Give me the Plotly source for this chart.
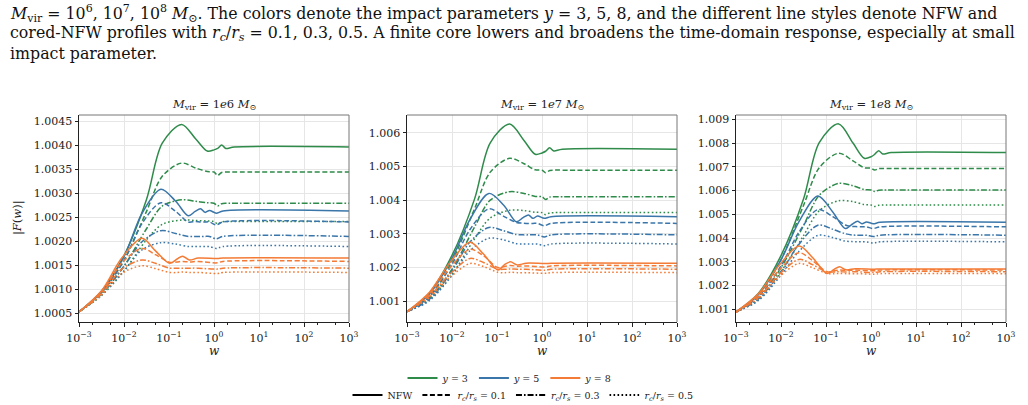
import plotly.graph_objects as go
from plotly.subplots import make_subplots

# ---- data: log10(w) grids (per impact parameter) ----
LW_Y3 = [-3, -2.5, -2, -1.5, -1.15, -0.72, -0.4, -0.15, 0.0, 0.08, 0.17, 0.26, 0.45, 3]
LW_Y5 = [-3, -2.5, -2, -1.6, -1.18, -0.85, -0.57, -0.42, -0.3, -0.2, -0.1, 0.05, 0.2, 3]
LW_Y8 = [-3, -2.5, -2.05, -1.6, -1.3, -0.98, -0.82, -0.7, -0.55, -0.35, 0.07, 0.2, 3]

# ---- |F(w)| for M_vir = 1e6 ----
M6_Y3_NFW = [1.00053, 1.00095, 1.00170, 1.00287, 1.00404, 1.00443, 1.00412, 1.003875, 1.00390, 1.00393, 1.00400, 1.00393, 1.00396, 1.00396]
M6_Y3_C01 = [1.00053, 1.00093, 1.00160, 1.00262, 1.00335, 1.003625, 1.00352, 1.00345, 1.00344, 1.00337, 1.00343, 1.00344, 1.00344, 1.00344]
M6_Y3_C03 = [1.00053, 1.00090, 1.00148, 1.00226, 1.00273, 1.00286, 1.00283, 1.00280, 1.00279, 1.002735, 1.00278, 1.00279, 1.00279, 1.00279]
M6_Y3_C05 = [1.00053, 1.00087, 1.00138, 1.00203, 1.00235, 1.00244, 1.00243, 1.00242, 1.00241, 1.00236, 1.00240, 1.00241, 1.00241, 1.00241]
M6_Y5_NFW = [1.00053, 1.00096, 1.00168, 1.00258, 1.00308, 1.00283, 1.002528, 1.00262, 1.002674, 1.00260, 1.00264, 1.002583, 1.00263, 1.00263]
M6_Y5_C01 = [1.00053, 1.00094, 1.00160, 1.00237, 1.00280, 1.00262, 1.00240, 1.00241, 1.00240, 1.00240, 1.00240, 1.00234, 1.00240, 1.00240]
M6_Y5_C03 = [1.00053, 1.00091, 1.00148, 1.00199, 1.00222, 1.00216, 1.00210, 1.00210, 1.00210, 1.00210, 1.00210, 1.00205, 1.00210, 1.00210]
M6_Y5_C05 = [1.00053, 1.00088, 1.00138, 1.00182, 1.00197, 1.00194, 1.00189, 1.00189, 1.00189, 1.00189, 1.00189, 1.00185, 1.00189, 1.00189]
M6_Y8_NFW = [1.00053, 1.00097, 1.00165, 1.00206, 1.00180, 1.00154, 1.00163, 1.00169, 1.00161, 1.00165, 1.00164, 1.00165, 1.00165]
M6_Y8_C01 = [1.00053, 1.00094, 1.00155, 1.00185, 1.00172, 1.00156, 1.00157, 1.00158, 1.00157, 1.00158, 1.00155, 1.00158, 1.00158]
M6_Y8_C03 = [1.00053, 1.00091, 1.00142, 1.00161, 1.00154, 1.00144, 1.00144, 1.00144, 1.00144, 1.00144, 1.00142, 1.00144, 1.00144]
M6_Y8_C05 = [1.00053, 1.00088, 1.00133, 1.00149, 1.00143, 1.00135, 1.00135, 1.00136, 1.00135, 1.00135, 1.00133, 1.00135, 1.00135]

# ---- |F(w)| for M_vir = 1e7 ----
M7_Y3_NFW = [1.000694, 1.00125, 1.00236, 1.00403, 1.00570, 1.006257, 1.00577, 1.00536, 1.00540, 1.00545, 1.005555, 1.00546, 1.00551, 1.00551]
M7_Y3_C01 = [1.000694, 1.00116, 1.00219, 1.00374, 1.00483, 1.00524, 1.00508, 1.00490, 1.00489, 1.00481, 1.00488, 1.00489, 1.00489, 1.00489]
M7_Y3_C03 = [1.000694, 1.00110, 1.00195, 1.00320, 1.00400, 1.00425, 1.00420, 1.00411, 1.00410, 1.00402, 1.00409, 1.00410, 1.00410, 1.00410]
M7_Y3_C05 = [1.000694, 1.00105, 1.00180, 1.00285, 1.00347, 1.00370, 1.00369, 1.00364, 1.00363, 1.00357, 1.00362, 1.00363, 1.00363, 1.00363]
M7_Y5_NFW = [1.000694, 1.00122, 1.00227, 1.00343, 1.00420, 1.00385, 1.003362, 1.00348, 1.00356, 1.00346, 1.00353, 1.00346, 1.00351, 1.00351]
M7_Y5_C01 = [1.000694, 1.00114, 1.00210, 1.00313, 1.00374, 1.00352, 1.00334, 1.00332, 1.00331, 1.00331, 1.00331, 1.00324, 1.00331, 1.00331]
M7_Y5_C03 = [1.000694, 1.00106, 1.00190, 1.00276, 1.00319, 1.00309, 1.00298, 1.00297, 1.00297, 1.00297, 1.00297, 1.00291, 1.00297, 1.00297]
M7_Y5_C05 = [1.000694, 1.00102, 1.00177, 1.00250, 1.00287, 1.00282, 1.00271, 1.00270, 1.00270, 1.00270, 1.00270, 1.00265, 1.00270, 1.00270]
M7_Y8_NFW = [1.000694, 1.00127, 1.00214, 1.00275, 1.00240, 1.00193, 1.00210, 1.00217, 1.00208, 1.00213, 1.00212, 1.00213, 1.00213]
M7_Y8_C01 = [1.000694, 1.00122, 1.00199, 1.00254, 1.00235, 1.00200, 1.00204, 1.00206, 1.00204, 1.00205, 1.00202, 1.00205, 1.00205]
M7_Y8_C03 = [1.000694, 1.00116, 1.00180, 1.00227, 1.00215, 1.00195, 1.00195, 1.00196, 1.00195, 1.00195, 1.00192, 1.00195, 1.00195]
M7_Y8_C05 = [1.000694, 1.00111, 1.00170, 1.00212, 1.00203, 1.00186, 1.00185, 1.00186, 1.00185, 1.00185, 1.00183, 1.00185, 1.00185]

# ---- |F(w)| for M_vir = 1e8 ----
M8_Y3_NFW = [1.000887, 1.00168, 1.00326, 1.00564, 1.00802, 1.008806, 1.00800, 1.00736, 1.00742, 1.00752, 1.00768, 1.00754, 1.00760, 1.00760]
M8_Y3_C01 = [1.000887, 1.00159, 1.00309, 1.00537, 1.00696, 1.00757, 1.00725, 1.00696, 1.00694, 1.00686, 1.00692, 1.00693, 1.00693, 1.00693]
M8_Y3_C03 = [1.000887, 1.00148, 1.00275, 1.00452, 1.00580, 1.00630, 1.00620, 1.00604, 1.00602, 1.00596, 1.00601, 1.00602, 1.00602, 1.00602]
M8_Y3_C05 = [1.000887, 1.00140, 1.00255, 1.00410, 1.00515, 1.00557, 1.00553, 1.00541, 1.00539, 1.00533, 1.00538, 1.00539, 1.00539, 1.00539]
M8_Y5_NFW = [1.000887, 1.00162, 1.00308, 1.00469, 1.00577, 1.00510, 1.00440, 1.00458, 1.00471, 1.00460, 1.00468, 1.00460, 1.00466, 1.00466]
M8_Y5_C01 = [1.000887, 1.00154, 1.00283, 1.00425, 1.00520, 1.00490, 1.00455, 1.00449, 1.00448, 1.00447, 1.00447, 1.00440, 1.00447, 1.00447]
M8_Y5_C03 = [1.000887, 1.00144, 1.00259, 1.00374, 1.00454, 1.00437, 1.00418, 1.00413, 1.00412, 1.00412, 1.00412, 1.00406, 1.00412, 1.00412]
M8_Y5_C05 = [1.000887, 1.00137, 1.00244, 1.00344, 1.00411, 1.00402, 1.00387, 1.00385, 1.00384, 1.00384, 1.00384, 1.00379, 1.00384, 1.00384]
M8_Y8_NFW = [1.000887, 1.00166, 1.00283, 1.00366, 1.00318, 1.00251, 1.00268, 1.00279, 1.00266, 1.00271, 1.00269, 1.00270, 1.00270]
M8_Y8_C01 = [1.000887, 1.00158, 1.00263, 1.00338, 1.00305, 1.00258, 1.00262, 1.00265, 1.00264, 1.00265, 1.00262, 1.00265, 1.00265]
M8_Y8_C03 = [1.000887, 1.00150, 1.00245, 1.00310, 1.00288, 1.00257, 1.00257, 1.00258, 1.00257, 1.00258, 1.00255, 1.00258, 1.00258]
M8_Y8_C05 = [1.000887, 1.00146, 1.00235, 1.00293, 1.00275, 1.00251, 1.00250, 1.00251, 1.00250, 1.00250, 1.00248, 1.00250, 1.00250]

MASS_EXP = ["6", "7", "8"]
Y_LABELS = ["3", "5", "8"]
PROFILE_LABELS = ["NFW", "0.1", "0.3", "0.5"]
Y_TICKS = [[1.0005, 1.0010, 1.0015, 1.0020, 1.0025, 1.0030, 1.0035, 1.0040, 1.0045],
           [1.001, 1.002, 1.003, 1.004, 1.005, 1.006],
           [1.001, 1.002, 1.003, 1.004, 1.005, 1.006, 1.007, 1.008, 1.009]]
X_TICK_EXP = [-3, -2, -1, 0, 1, 2, 3]

# ---- styling ----
COLORS = ["#2e8b4a", "#3a76a9", "#f47b35"]
DASHES = ["solid", "5px,2.5px", "6px,2px,1.6px,2px", "1.6px,2.4px"]
FONT = "DejaVu Serif"
W, H = 1028, 405
X_DOM = [(79, 349), (407, 677), (736, 1006)]
Y_TOP, Y_BOT = 115, 322
Y_RANGES = [(1.00032, 1.004625), (1.000386, 1.006525), (1.000465, 1.00918)]
Y_FMT = [".4f", ".3f", ".3f"]

GRIDS = [LW_Y3, LW_Y5, LW_Y8]
DATA = [
    [[M6_Y3_NFW, M6_Y3_C01, M6_Y3_C03, M6_Y3_C05],
     [M6_Y5_NFW, M6_Y5_C01, M6_Y5_C03, M6_Y5_C05],
     [M6_Y8_NFW, M6_Y8_C01, M6_Y8_C03, M6_Y8_C05]],
    [[M7_Y3_NFW, M7_Y3_C01, M7_Y3_C03, M7_Y3_C05],
     [M7_Y5_NFW, M7_Y5_C01, M7_Y5_C03, M7_Y5_C05],
     [M7_Y8_NFW, M7_Y8_C01, M7_Y8_C03, M7_Y8_C05]],
    [[M8_Y3_NFW, M8_Y3_C01, M8_Y3_C03, M8_Y3_C05],
     [M8_Y5_NFW, M8_Y5_C01, M8_Y5_C03, M8_Y5_C05],
     [M8_Y8_NFW, M8_Y8_C01, M8_Y8_C03, M8_Y8_C05]],
]

fig = make_subplots(rows=1, cols=3)

for p in range(3):
    for c in range(3):
        xs = [10 ** v for v in GRIDS[c]]
        for s in range(4):
            fig.add_trace(go.Scatter(
                x=xs, y=DATA[p][c][s], mode="lines",
                line=dict(color=COLORS[c], width=1.5, dash=DASHES[s], shape="spline", smoothing=0.9),
                showlegend=False, hoverinfo="skip"), row=1, col=p + 1)

# legend entries
for c in range(3):
    fig.add_trace(go.Scatter(x=[None], y=[None], mode="lines",
                             line=dict(color=COLORS[c], width=1.8),
                             name=f"<i>y</i> = {Y_LABELS[c]}", legend="legend"), row=1, col=1)
for s in range(4):
    name = "NFW" if s == 0 else f"<i>r<sub>c</sub></i>/<i>r<sub>s</sub></i> = {PROFILE_LABELS[s]}"
    fig.add_trace(go.Scatter(x=[None], y=[None], mode="lines",
                             line=dict(color="black", width=1.8, dash=DASHES[s]),
                             name=name, legend="legend2"), row=1, col=1)

ydom = [1 - Y_BOT / H, 1 - Y_TOP / H]
for p in range(3):
    xa = "xaxis" if p == 0 else f"xaxis{p + 1}"
    ya = "yaxis" if p == 0 else f"yaxis{p + 1}"
    fig.layout[xa].update(
        type="log", range=[-3, 3], domain=[X_DOM[p][0] / W, X_DOM[p][1] / W], automargin=False,
        tickvals=[10 ** e for e in X_TICK_EXP],
        ticktext=[f"10<sup>{'−' if e < 0 else ''}{abs(e)}</sup>" for e in X_TICK_EXP],
        showgrid=True, gridcolor="#e6e6e6", gridwidth=0.8,
        showline=True, linecolor="#222", linewidth=1,
        ticks="outside", ticklen=3.5, tickwidth=0.8, tickcolor="#222", ticklabelstandoff=2,
        minor=dict(ticks="outside", ticklen=2, tickwidth=0.6, tickcolor="#222", showgrid=False),
        tickfont=dict(family=FONT, size=11, color="#222"), zeroline=False)
    fig.layout[ya].update(
        range=list(Y_RANGES[p]), domain=ydom, automargin=False,
        tickvals=Y_TICKS[p], tickformat=Y_FMT[p],
        showgrid=True, gridcolor="#e6e6e6", gridwidth=0.8,
        showline=True, linecolor="#222", linewidth=1,
        ticks="outside", ticklen=3.5, tickwidth=0.8, tickcolor="#222",
        tickfont=dict(family=FONT, size=11, color="#222"), zeroline=False)
    xr = "x" if p == 0 else f"x{p + 1}"
    yr = "y" if p == 0 else f"y{p + 1}"
    # gray top and right spines
    fig.add_shape(type="line", xref=f"{xr} domain", yref=f"{yr} domain", x0=0, x1=1, y0=1, y1=1,
                  line=dict(color="#777", width=1))
    fig.add_shape(type="line", xref=f"{xr} domain", yref=f"{yr} domain", x0=1, x1=1, y0=0, y1=1,
                  line=dict(color="#777", width=1))
    cx = (X_DOM[p][0] + X_DOM[p][1]) / 2 / W
    fig.add_annotation(text=f"<i>M</i><sub>vir</sub> = 1<i>e</i>{MASS_EXP[p]} <i>M</i><sub>⊙</sub>",
                       xref="paper", yref="paper", x=cx, y=1 - 104 / H, xanchor="center", yanchor="middle",
                       showarrow=False, font=dict(family=FONT, size=11.5, color="#222"))
    fig.add_annotation(text="<i>w</i>", xref="paper", yref="paper", x=cx, y=1 - 351 / H,
                       xanchor="center", yanchor="middle", showarrow=False,
                       font=dict(family=FONT, size=12, color="#222"))

fig.add_annotation(text="|<i>F</i>(<i>w</i>)|", xref="paper", yref="paper", x=17 / W, y=1 - 218 / H,
                   xanchor="center", yanchor="middle", textangle=-90, showarrow=False,
                   font=dict(family=FONT, size=11.5, color="#222"))

CAPTION = [
    "<i>M</i><sub>vir</sub> = 10<sup>6</sup>, 10<sup>7</sup>, 10<sup>8</sup> <i>M</i><sub>⊙</sub>. The colors denote the impact parameters <i>y</i> = 3, 5, 8, and the different line styles denote NFW and",
    "cored-NFW profiles with <i>r<sub>c</sub></i>/<i>r<sub>s</sub></i> = 0.1, 0.3, 0.5. A finite core lowers and broadens the time-domain response, especially at small",
    "impact parameter.",
]
for line, yy in zip(CAPTION, [13, 33, 53]):
    fig.add_annotation(text=line, xref="paper", yref="paper", x=8 / W, y=1 - yy / H,
                       xanchor="left", yanchor="middle", showarrow=False,
                       font=dict(family=FONT, size=15.8, color="#111"))

fig.update_layout(
    width=W, height=H, autosize=False,
    margin=dict(l=0, r=0, t=0, b=0, autoexpand=False),
    paper_bgcolor="white", plot_bgcolor="white",
    legend=dict(orientation="h", x=510 / W, xanchor="center", y=1 - 378 / H, yanchor="middle",
                font=dict(family=FONT, size=9.5, color="#222"), bgcolor="rgba(0,0,0,0)",
                itemwidth=30, tracegroupgap=0),
    legend2=dict(orientation="h", x=523 / W, xanchor="center", y=1 - 395 / H, yanchor="middle",
                 font=dict(family=FONT, size=9.5, color="#222"), bgcolor="rgba(0,0,0,0)",
                 itemwidth=30, tracegroupgap=0),
)

fig.write_html("out.html")
